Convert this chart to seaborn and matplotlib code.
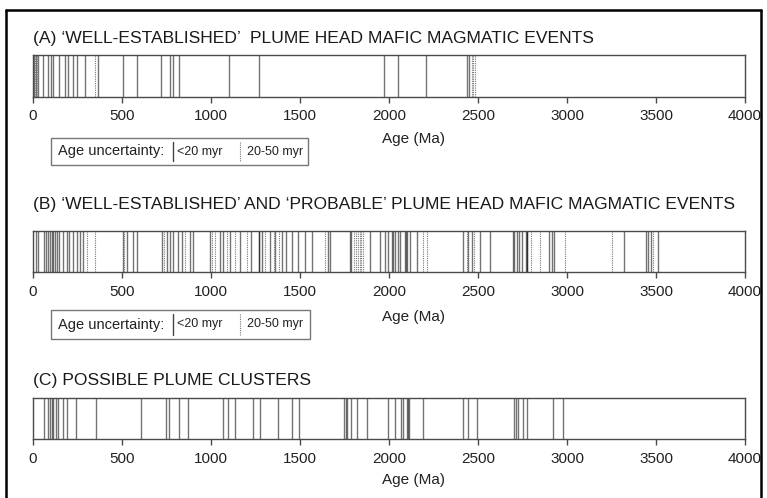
import matplotlib
matplotlib.use("Agg")
import matplotlib.pyplot as plt
from matplotlib.lines import Line2D
from matplotlib.patches import Rectangle
import seaborn as sns
import pandas as pd

# Plume-head mafic magmatic events (Ma); "loose" = 20-50 myr age uncertainty
a_precise = [5, 17, 30, 58, 86, 99, 111, 148, 180, 198, 226, 245, 292, 367, 504,
             583, 719, 770, 785, 820, 1101, 1267, 1974, 2052, 2208, 2440, 2450]
a_loose = [10, 25, 348, 2465, 2474, 2483]

b_precise = [17, 30, 62, 73, 86, 95, 105, 114, 125, 137, 148, 170, 189, 204, 223,
             245, 264, 283, 504, 530, 564, 586, 723, 751, 770, 785, 817, 835, 882,
             901, 994, 1051, 1069, 1107, 1163, 1223, 1267, 1271, 1285, 1331, 1360,
             1397, 1421, 1453, 1490, 1528, 1566, 1659, 1668, 1781, 1786, 1893, 1949,
             1977, 1996, 2015, 2024, 2036, 2050, 2062, 2090, 2094, 2099, 2118, 2155,
             2418, 2446, 2464, 2510, 2567, 2698, 2702, 2717, 2732, 2745, 2770, 2774,
             2777, 2901, 2914, 2927, 3322, 3444, 3457, 3470, 3513]
b_loose = [305, 348, 513, 738, 854, 1004, 1022, 1088, 1135, 1200, 1303, 1354, 1380,
           1640, 1805, 1815, 1825, 1835, 1845, 1856, 2193, 2212, 2436, 2480, 2800,
           2848, 2989, 3251, 3481]

c_clusters = [62, 86, 95, 105, 114, 129, 140, 170, 193, 242, 354, 607, 747, 766, 822,
              873, 1069, 1097, 1135, 1235, 1275, 1378, 1453, 1496, 1747, 1757, 1766,
              1785, 1822, 1878, 1996, 2034, 2066, 2077, 2099, 2107, 2114, 2189, 2414,
              2446, 2492, 2702, 2715, 2727, 2751, 2773, 2920, 2979]

tick_values = [0, 500, 1000, 1500, 2000, 2500, 3000, 3500, 4000]
titles = ["(A) \u2018WELL-ESTABLISHED\u2019  PLUME HEAD MAFIC MAGMATIC EVENTS",
          "(B) \u2018WELL-ESTABLISHED\u2019 AND \u2018PROBABLE\u2019 PLUME HEAD MAFIC MAGMATIC EVENTS",
          "(C) POSSIBLE PLUME CLUSTERS"]
legend_labels = ["Age uncertainty:", "<20 myr", "20-50 myr"]
xlabel = "Age (Ma)"

sns.set_theme(style="white")
plt.rcParams["font.family"] = ["Liberation Sans", "DejaVu Sans"]

W, H = 767, 498
fig = plt.figure(figsize=(W / 100, H / 100), dpi=100)


def fx(px):
    return px / W


def fy(py):
    return 1 - py / H


spine_col = "#4a4a4a"
ev_col = "black"

panels = [
    dict(top=55, bottom=97, title_y=38, label_y=139, precise=a_precise, loose=a_loose,
         legend=(51, 138, 308, 165)),
    dict(top=231, bottom=272, title_y=204, label_y=317, precise=b_precise, loose=b_loose,
         legend=(51, 310, 310, 339)),
    dict(top=398, bottom=439, title_y=380, label_y=480, precise=c_clusters, loose=[],
         legend=None),
]

x0, x1 = 33, 745
for i, p in enumerate(panels):
    ax = fig.add_axes([fx(x0), fy(p["bottom"]), fx(x1) - fx(x0),
                       (p["bottom"] - p["top"]) / H])
    df = pd.DataFrame({"age": p["precise"]})
    sns.rugplot(data=df, x="age", height=1, ax=ax, color=ev_col, alpha=0.55,
                linewidth=1.0, expand_margins=False)
    if p["loose"]:
        dl = pd.DataFrame({"age": p["loose"]})
        sns.rugplot(data=dl, x="age", height=1, ax=ax, color="#777777",
                    linewidth=0.8, linestyle=(0, (1, 1)), expand_margins=False)
    ax.set_xlim(0, 4000)
    ax.set_ylim(0, 1)
    ax.set_yticks([])
    ax.set_xticks(tick_values)
    ax.set_xticklabels([str(t) for t in tick_values], fontsize=11, color="#222222")
    ax.tick_params(axis="x", bottom=True, direction="out", length=4, width=1,
                   color=spine_col, pad=5)
    ax.set_xlabel("")
    ax.set_ylabel("")
    for s in ax.spines.values():
        s.set_color(spine_col)
        s.set_linewidth(1.0)
        s.set_visible(True)
    fig.text(fx(x0), fy(p["title_y"]), titles[i], fontsize=12.6, color="#1a1a1a",
             ha="left", va="center")
    fig.text(fx(413), fy(p["label_y"]), xlabel, fontsize=11, color="#222222",
             ha="center", va="center")

    if p["legend"] is not None:
        lx0, ly0, lx1, ly1 = p["legend"]
        fig.patches.append(Rectangle((fx(lx0), fy(ly1)), fx(lx1) - fx(lx0),
                                     (ly1 - ly0) / H, transform=fig.transFigure,
                                     fill=False, edgecolor="#777777", linewidth=1.0))
        ym = (ly0 + ly1) / 2
        fig.text(fx(lx0 + 7), fy(ym), legend_labels[0], fontsize=10.5,
                 color="#222222", ha="left", va="center")
        fig.lines.append(Line2D([fx(lx0 + 122)] * 2, [fy(ly0 + 4), fy(ly1 - 4)],
                                transform=fig.transFigure, color="#444444", lw=1.0))
        fig.text(fx(lx0 + 126), fy(ym), legend_labels[1], fontsize=9,
                 color="#222222", ha="left", va="center")
        fig.lines.append(Line2D([fx(lx0 + 189)] * 2, [fy(ly0 + 4), fy(ly1 - 4)],
                                transform=fig.transFigure, color="#777777", lw=0.8,
                                linestyle=(0, (1, 1))))
        fig.text(fx(lx0 + 196), fy(ym), legend_labels[2], fontsize=9,
                 color="#222222", ha="left", va="center")

# outer frame
for xs, ys in [([6, 6], [10, 520]), ([6, 761], [10, 10]), ([761, 761], [10, 520])]:
    fig.lines.append(Line2D([fx(v) for v in xs], [fy(v) for v in ys],
                            transform=fig.transFigure, color="black", lw=1.8))

fig.savefig("out.png", dpi=100, facecolor="white")
